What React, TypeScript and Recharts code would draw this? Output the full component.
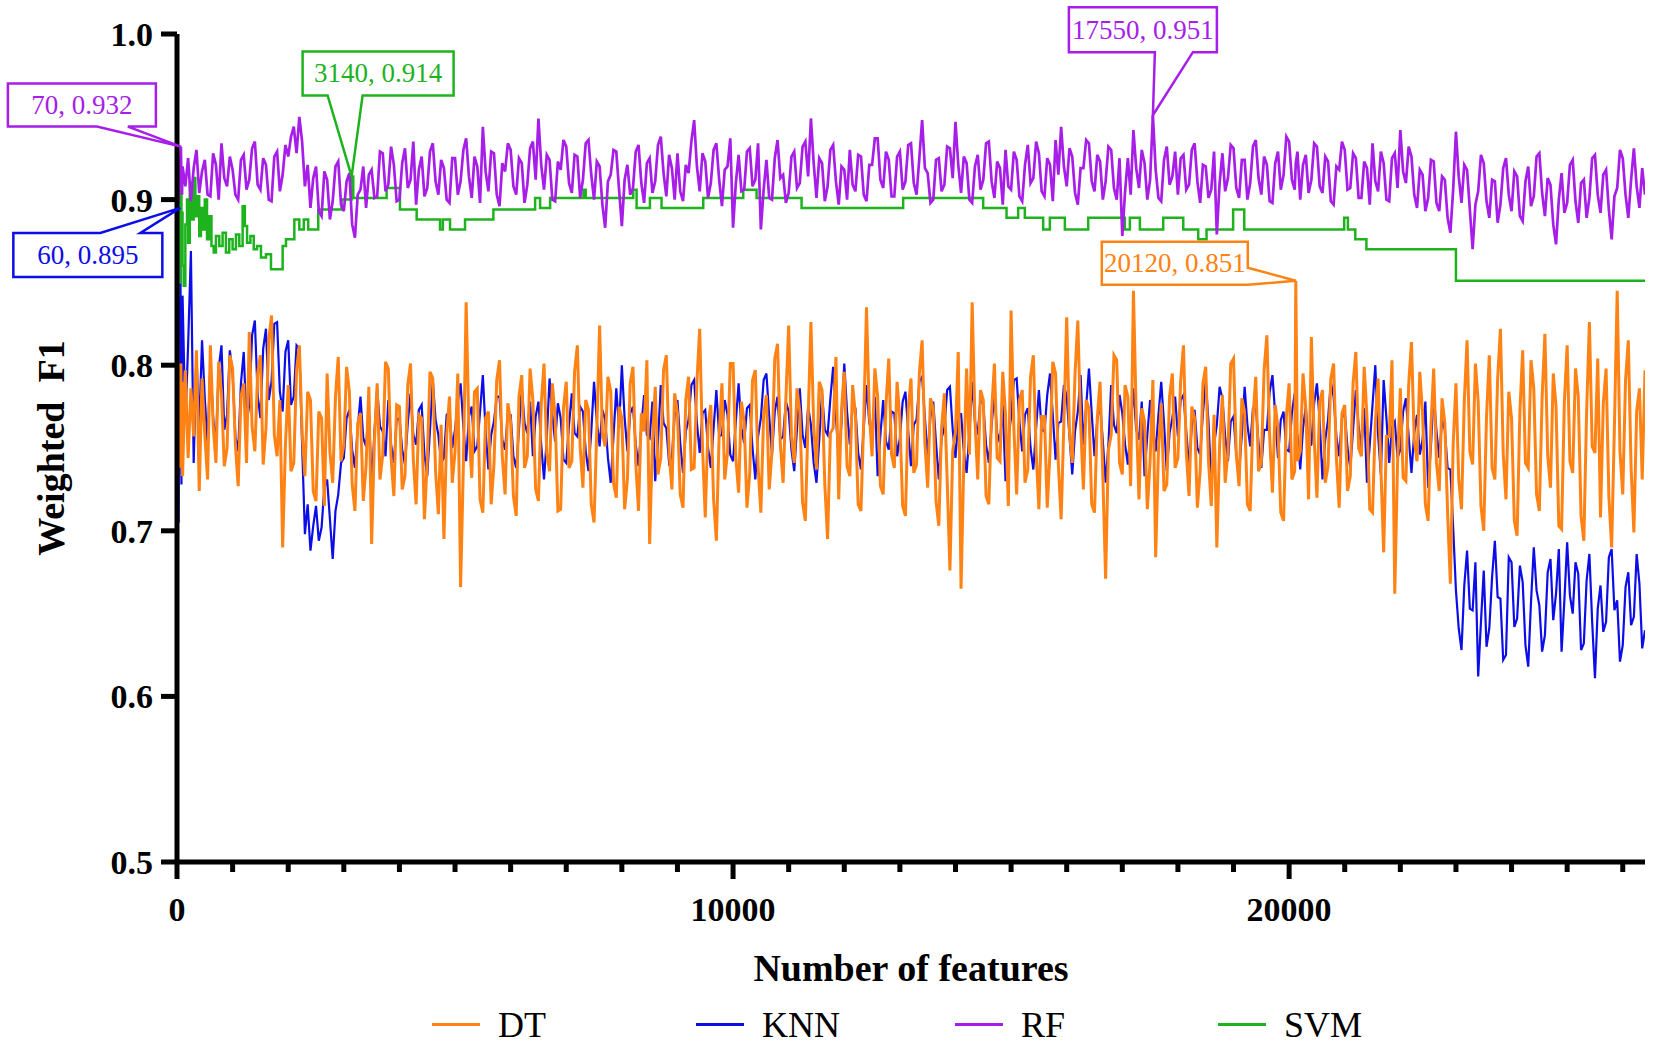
import React from "react";
import { Legend, Line, LineChart, ReferenceDot, XAxis, YAxis } from "recharts";

const FONT = "'Times New Roman', 'Liberation Serif', serif";

// number of features where DT / KNN / RF were scored
const features = [
  10, 20, 30, 40, 50, 60, 70, 80, 90, 100, 150, 200, 250, 300, 350, 400, 450, 500, 550, 600, 650, 700, 750, 800, 850, 900, 950,
  1000, 1050, 1100, 1150, 1200, 1250, 1300, 1350, 1400, 1450, 1500, 1550, 1600, 1650, 1700, 1750, 1800, 1850, 1900, 1950,
  2000, 2050, 2100, 2150, 2200, 2250, 2300, 2350, 2400, 2450, 2500, 2550, 2600, 2650, 2700, 2750, 2800, 2850, 2900, 2950,
  3000, 3050, 3100, 3150, 3200, 3250, 3300, 3350, 3400, 3450, 3500, 3550, 3600, 3650, 3700, 3750, 3800, 3850, 3900, 3950,
  4000, 4050, 4100, 4150, 4200, 4250, 4300, 4350, 4400, 4450, 4500, 4550, 4600, 4650, 4700, 4750, 4800, 4850, 4900, 4950,
  5000, 5050, 5100, 5150, 5200, 5250, 5300, 5350, 5400, 5450, 5500, 5550, 5600, 5650, 5700, 5750, 5800, 5850, 5900, 5950,
  6000, 6050, 6100, 6150, 6200, 6250, 6300, 6350, 6400, 6450, 6500, 6550, 6600, 6650, 6700, 6750, 6800, 6850, 6900, 6950,
  7000, 7050, 7100, 7150, 7200, 7250, 7300, 7350, 7400, 7450, 7500, 7550, 7600, 7650, 7700, 7750, 7800, 7850, 7900, 7950,
  8000, 8050, 8100, 8150, 8200, 8250, 8300, 8350, 8400, 8450, 8500, 8550, 8600, 8650, 8700, 8750, 8800, 8850, 8900, 8950,
  9000, 9050, 9100, 9150, 9200, 9250, 9300, 9350, 9400, 9450, 9500, 9550, 9600, 9650, 9700, 9750, 9800, 9850, 9900, 9950,
  10000, 10050, 10100, 10150, 10200, 10250, 10300, 10350, 10400, 10450, 10500, 10550, 10600, 10650, 10700, 10750, 10800, 10850, 10900, 10950,
  11000, 11050, 11100, 11150, 11200, 11250, 11300, 11350, 11400, 11450, 11500, 11550, 11600, 11650, 11700, 11750, 11800, 11850, 11900, 11950,
  12000, 12050, 12100, 12150, 12200, 12250, 12300, 12350, 12400, 12450, 12500, 12550, 12600, 12650, 12700, 12750, 12800, 12850, 12900, 12950,
  13000, 13050, 13100, 13150, 13200, 13250, 13300, 13350, 13400, 13450, 13500, 13550, 13600, 13650, 13700, 13750, 13800, 13850, 13900, 13950,
  14000, 14050, 14100, 14150, 14200, 14250, 14300, 14350, 14400, 14450, 14500, 14550, 14600, 14650, 14700, 14750, 14800, 14850, 14900, 14950,
  15000, 15050, 15100, 15150, 15200, 15250, 15300, 15350, 15400, 15450, 15500, 15550, 15600, 15650, 15700, 15750, 15800, 15850, 15900, 15950,
  16000, 16050, 16100, 16150, 16200, 16250, 16300, 16350, 16400, 16450, 16500, 16550, 16600, 16650, 16700, 16750, 16800, 16850, 16900, 16950,
  17000, 17050, 17100, 17150, 17200, 17250, 17300, 17350, 17400, 17450, 17500, 17550, 17600, 17650, 17700, 17750, 17800, 17850, 17900, 17950,
  18000, 18050, 18100, 18150, 18200, 18250, 18300, 18350, 18400, 18450, 18500, 18550, 18600, 18650, 18700, 18750, 18800, 18850, 18900, 18950,
  19000, 19050, 19100, 19150, 19200, 19250, 19300, 19350, 19400, 19450, 19500, 19550, 19600, 19650, 19700, 19750, 19800, 19850, 19900, 19950,
  20000, 20050, 20100, 20120, 20150, 20200, 20250, 20300, 20350, 20400, 20450, 20500, 20550, 20600, 20650, 20700, 20750, 20800, 20850, 20900, 20950,
  21000, 21050, 21100, 21150, 21200, 21250, 21300, 21350, 21400, 21450, 21500, 21550, 21600, 21650, 21700, 21750, 21800, 21850, 21900, 21950,
  22000, 22050, 22100, 22150, 22200, 22250, 22300, 22350, 22400, 22450, 22500, 22550, 22600, 22650, 22700, 22750, 22800, 22850, 22900, 22950,
  23000, 23050, 23100, 23150, 23200, 23250, 23300, 23350, 23400, 23450, 23500, 23550, 23600, 23650, 23700, 23750, 23800, 23850, 23900, 23950,
  24000, 24050, 24100, 24150, 24200, 24250, 24300, 24350, 24400, 24450, 24500, 24550, 24600, 24650, 24700, 24750, 24800, 24850, 24900, 24950,
  25000, 25050, 25100, 25150, 25200, 25250, 25300, 25350, 25400, 25450, 25500, 25550, 25600, 25650, 25700, 25750, 25800, 25850, 25900, 25950,
  26000, 26050, 26100, 26150, 26200, 26250, 26300, 26350, 26400,
];

// weighted F1 x 1000
const dtScores = [
  828, 760, 796, 745, 782, 738, 801, 752, 790, 733, 797, 744, 786, 757, 809, 724, 792, 758, 731, 812, 764, 741, 802, 783, 739, 750, 806,
  798, 752, 727, 781, 789, 741, 820, 763, 748, 795, 806, 740, 762, 815, 830, 758, 745, 779, 690, 752,
  788, 736, 741, 797, 812, 760, 733, 784, 779, 724, 718, 772, 768, 715, 795, 748, 729, 781, 805, 742,
  752, 799, 784, 728, 712, 765, 771, 718, 739, 787, 692, 754, 789, 731, 746, 802, 798, 744, 721, 776,
  775, 725, 733, 788, 801, 743, 716, 770, 768, 707, 742, 796, 792, 736, 710, 764, 695, 758, 781, 729,
  748, 795, 666, 740, 838, 761, 732, 784, 786, 719, 711, 768, 772, 716, 740, 791, 803, 745, 722, 777,
  766, 721, 709, 781, 794, 738, 745, 798, 779, 725, 718, 776, 801, 747, 736, 789, 769, 712, 713, 774,
  790, 738, 742, 796, 812, 751, 726, 779, 773, 716, 705, 762, 824, 759, 751, 793, 784, 729, 720, 775,
  768, 713, 731, 789, 799, 741, 712, 771, 760, 803, 692, 753, 787, 734, 744, 797, 806, 748, 725, 783,
  771, 722, 714, 779, 793, 737, 738, 790, 822, 751, 708, 764, 776, 719, 694, 758, 789, 731, 747, 801,
  801, 744, 723, 778, 766, 714, 735, 791, 797, 739, 711, 770, 782, 725, 748, 804, 813, 752, 729, 780,
  824, 757, 741, 786, 772, 717, 706, 768, 826, 764, 737, 790, 785, 728, 695, 759, 762, 805, 719, 773,
  796, 739, 733, 788, 770, 716, 712, 767, 835, 771, 745, 798, 781, 727, 722, 776, 804, 746, 738, 790,
  767, 715, 709, 773, 792, 735, 740, 795, 815, 753, 726, 780, 774, 718, 703, 762, 783, 731, 676, 748,
  760, 808, 665, 742, 798, 746, 838, 767, 731, 785, 779, 721, 716, 772, 801, 744, 742, 796, 770, 715,
  833, 762, 722, 779, 785, 729, 737, 793, 806, 748, 713, 769, 769, 714, 748, 802, 795, 740, 707, 766,
  829, 760, 741, 795, 827, 765, 725, 779, 774, 716, 711, 768, 790, 733, 671, 749, 758, 806, 803, 741,
  734, 788, 781, 727, 845, 771, 719, 774, 766, 713, 742, 791, 684, 749, 777, 724, 728, 781, 795, 738,
  744, 791, 812, 748, 721, 775, 768, 714, 736, 789, 799, 742, 715, 770, 690, 752, 782, 729, 748, 801,
  804, 746, 727, 780, 771, 716, 712, 768, 793, 736, 741, 797, 818, 757, 723, 776, 762, 711, 706, 769,
  789, 731, 736, 851, 742, 748, 795, 774, 719, 817, 756, 720, 778, 785, 729, 739, 792, 801, 744, 714, 771,
  776, 724, 733, 789, 808, 750, 745, 799, 769, 713, 711, 765, 792, 738, 687, 757, 757, 803, 662, 741,
  786, 732, 730, 788, 814, 755, 742, 796, 771, 716, 706, 763, 798, 741, 724, 780, 765, 711, 668, 752,
  789, 731, 713, 778, 815, 748, 740, 801, 778, 715, 700, 769, 806, 738, 731, 792, 822, 747, 719, 784,
  768, 706, 697, 772, 809, 741, 738, 803, 786, 722, 712, 781, 819, 746, 726, 795, 775, 703, 701, 778,
  812, 742, 735, 798, 781, 709, 694, 772, 826, 751, 747, 804, 708, 777, 798, 721, 690, 763, 845, 748,
  722, 791, 815, 738, 699, 772, 786, 731, 797,
];

const knnScores = [
  655, 762, 705, 832, 858, 895, 781, 728, 803, 842, 765, 812, 869, 741, 806, 762, 815, 780, 752, 801, 768, 752, 798, 812, 761, 770, 809,
  795, 757, 748, 789, 808, 765, 776, 818, 827, 782, 768, 810, 822, 779, 790, 825, 826, 784, 772, 808,
  815, 776, 781, 812, 810, 752, 698, 716, 688, 703, 715, 694, 702, 726, 731, 707, 683, 712, 722, 741,
  744, 768, 773, 749, 738, 762, 781, 756, 751, 774, 727, 759, 786, 763, 760, 745, 779, 752, 741, 767,
  768, 749, 740, 765, 783, 758, 752, 773, 776, 746, 733, 761, 791, 767, 758, 741, 744, 770, 772, 750,
  761, 778, 789, 763, 742, 769, 775, 748, 751, 772, 794, 760, 737, 758, 766, 781, 781, 755, 749, 771,
  770, 745, 738, 761, 787, 765, 759, 778, 745, 769, 778, 752, 731, 756, 792, 770, 754, 777, 768, 743,
  741, 764, 783, 759, 757, 775, 772, 748, 736, 760, 790, 766, 751, 773, 767, 744, 729, 757, 786, 762,
  800, 768, 748, 771, 775, 752, 739, 763, 782, 758, 756, 778, 730, 754, 788, 765, 762, 741, 744, 770,
  779, 753, 735, 760, 767, 788, 791, 765, 747, 771, 773, 750, 738, 762, 785, 757, 758, 779, 770, 746,
  742, 766, 789, 762, 753, 774, 776, 750, 731, 757, 768, 791, 795, 769, 746, 772, 781, 755, 757, 778,
  772, 749, 736, 762, 786, 758, 750, 775, 764, 741, 729, 755, 783, 761, 758, 780, 799, 769, 743, 765,
  801, 772, 752, 776, 774, 747, 737, 762, 788, 765, 760, 781, 733, 758, 779, 754, 749, 772, 771, 745,
  756, 778, 784, 760, 739, 764, 767, 790, 793, 768, 745, 769, 778, 753, 731, 756, 762, 785, 787, 761,
  744, 767, 771, 748, 735, 759, 790, 766, 758, 780, 776, 752, 741, 764, 783, 759, 753, 776, 730, 755,
  769, 791, 792, 766, 748, 770, 774, 750, 737, 762, 785, 761, 760, 782, 795, 770, 743, 765, 766, 788,
  781, 757, 734, 760, 772, 794, 752, 775, 798, 771, 745, 767, 777, 754, 729, 752, 788, 764, 759, 782,
  771, 752, 740, 763, 786, 761, 755, 778, 733, 758, 779, 762, 748, 770, 790, 765, 736, 759, 768, 781,
  757, 779, 782, 760, 739, 763, 773, 750, 746, 771, 791, 766, 728, 752, 764, 787, 780, 757, 742, 766,
  769, 746, 735, 758, 787, 764, 751, 774, 776, 753, 738, 761, 761, 784, 794, 770, 744, 767, 772, 749,
  748, 771, 783, 760, 758, 737, 762, 775, 751, 752, 777, 789, 766, 731, 755, 767, 790, 781, 757, 745, 768,
  772, 750, 738, 761, 785, 763, 750, 774, 729, 752, 776, 800, 758, 734, 791, 768, 741, 763, 766, 744,
  749, 772, 780, 757, 735, 759, 770, 746, 755, 778, 726, 751, 783, 760, 744, 767, 761, 738, 737, 702,
  664, 641, 628, 667, 688, 653, 652, 681, 612, 645, 676, 630, 641, 672, 694, 660, 659, 622, 625, 684,
  681, 642, 647, 679, 669, 631, 618, 657, 690, 664, 655, 627, 637, 675, 683, 646, 662, 689, 627, 658,
  693, 661, 650, 681, 674, 628, 632, 670, 686, 645, 611, 653, 667, 639, 645, 684, 689, 652, 658, 621,
  631, 666, 675, 643, 648, 686, 668, 629, 640,
];

const rfScores = [
  905, 918, 898, 922, 910, 926, 932, 910, 903, 920, 908, 925, 899, 919, 930, 904, 917, 924, 903, 902, 928, 921, 900, 934, 913, 908, 926,
  918, 903, 900, 924, 927, 906, 912, 931, 935, 909, 906, 925, 921, 900, 899, 926, 929, 905, 915, 933,
  926, 938, 944, 928, 950, 935, 908, 921, 895, 913, 920, 893, 890, 917, 912, 888, 899, 920, 923, 897,
  893, 911, 916, 885, 877, 903, 906, 920, 895, 915, 918, 901, 902, 929, 928, 905, 909, 932, 921, 899,
  900, 922, 931, 907, 912, 935, 897, 918, 926, 902, 907, 929, 934, 911, 903, 924, 919, 900, 898, 925,
  925, 903, 911, 930, 937, 914, 901, 926, 920, 898, 944, 917, 905, 929, 928, 903, 896, 922, 917, 934,
  930, 908, 903, 925, 922, 898, 909, 931, 935, 912, 949, 921, 906, 927, 924, 900, 899, 923, 918, 936,
  932, 910, 904, 927, 926, 901, 912, 934, 936, 915, 900, 923, 920, 897, 883, 911, 915, 930, 929, 906,
  884, 912, 921, 903, 907, 929, 933, 910, 898, 922, 925, 904, 911, 933, 938, 916, 902, 927, 919, 900,
  928, 905, 899, 921, 916, 935, 948, 920, 905, 928, 923, 901, 910, 930, 934, 912, 896, 918, 920, 937,
  883, 910, 927, 905, 906, 929, 931, 908, 912, 934, 882, 906, 924, 901, 900, 925, 936, 913, 915, 898,
  904, 926, 929, 907, 910, 932, 935, 914, 949, 922, 901, 925, 922, 899, 908, 930, 933, 911, 897, 920,
  918, 900, 930, 909, 905, 927, 926, 903, 899, 921, 921, 937, 937, 912, 907, 929, 924, 902, 902, 926,
  929, 906, 911, 933, 934, 910, 903, 925, 948, 919, 916, 898, 900, 924, 925, 905, 909, 932, 931, 913,
  947, 921, 904, 926, 922, 900, 898, 920, 927, 906, 912, 934, 935, 911, 901, 923, 919, 897, 930, 908,
  906, 929, 924, 902, 899, 921, 933, 910, 913, 935, 928, 905, 902, 925, 921, 899, 936, 915, 944, 920,
  908, 931, 926, 904, 897, 919, 919, 936, 934, 911, 905, 927, 923, 900, 911, 932, 930, 907, 900, 925,
  878, 905, 925, 903, 942, 919, 907, 930, 922, 900, 912, 951, 918, 901, 899, 924, 932, 909, 914, 929,
  903, 925, 927, 906, 909, 930, 934, 911, 898, 921, 920, 901, 906, 929, 879, 910, 928, 905, 913, 933,
  931, 907, 901, 924, 924, 900, 910, 932, 936, 913, 903, 926, 921, 899, 898, 922, 929, 906, 915, 938,
  935, 912, 906, 922, 929, 900, 921, 927, 904, 912, 934, 932, 908, 904, 926, 923, 899, 897, 920, 918, 935,
  930, 906, 907, 928, 925, 901, 901, 923, 919, 897, 934, 911, 905, 929, 922, 900, 899, 925, 928, 907,
  942, 917, 910, 932, 926, 903, 895, 918, 915, 893, 901, 924, 923, 898, 893, 914, 912, 889, 880, 906,
  941, 914, 898, 921, 918, 894, 870, 897, 905, 927, 922, 899, 889, 912, 911, 886, 897, 919, 925, 903,
  893, 917, 914, 890, 887, 911, 920, 896, 902, 926, 928, 904, 890, 913, 909, 885, 873, 900, 916, 892,
  898, 921, 924, 899, 886, 910, 912, 889, 901, 925, 927, 903, 892, 915, 918, 894, 876, 902, 907, 930,
  925, 903, 889, 912, 931, 908, 895, 919, 903,
];

// SVM only changes at a few feature counts (step line)
const svmFeatures = [
  10, 20, 30, 40, 50, 60, 70, 80, 90, 100,
  120, 150, 180, 200, 230, 260, 300, 330, 360, 400,
  430, 470, 500, 540, 580, 620, 660, 700, 760, 820,
  880, 940, 1000, 1060, 1120, 1180, 1220, 1260, 1320, 1380,
  1440, 1510, 1600, 1690, 1900, 1960, 2110, 2200, 2280, 2360,
  2540, 2960, 3140, 3170, 3770, 4010, 4310, 4730, 4780, 4910,
  5180, 5690, 6440, 6530, 6710, 7310, 7350, 8205, 8265, 8505,
  8714, 9464, 10183, 10423, 11232, 13059, 14498, 14918, 15127, 15247,
  15577, 15697, 15967, 16387, 17046, 17136, 17316, 17736, 18096, 18365,
  18515, 18993, 19193, 20990, 21057, 21190, 21390, 23000, 26400,
];
const svmScores = [
  0.842, 0.905, 0.862, 0.899, 0.85, 0.878, 0.906, 0.87, 0.892, 0.86,
  0.848, 0.885, 0.9, 0.874, 0.91, 0.888, 0.913, 0.89, 0.902, 0.878,
  0.895, 0.882, 0.9, 0.876, 0.89, 0.872, 0.868, 0.878, 0.872, 0.88,
  0.868, 0.876, 0.87, 0.879, 0.872, 0.896, 0.884, 0.874, 0.878, 0.87,
  0.872, 0.865, 0.867, 0.858, 0.872, 0.876, 0.888, 0.882, 0.888, 0.882,
  0.894, 0.9, 0.914, 0.901, 0.907, 0.894, 0.888, 0.882, 0.888, 0.882,
  0.888, 0.894, 0.901, 0.895, 0.901, 0.906, 0.901, 0.906, 0.895, 0.901,
  0.895, 0.901, 0.906, 0.901, 0.895, 0.901, 0.895, 0.889, 0.895, 0.889,
  0.882, 0.889, 0.882, 0.889, 0.882, 0.889, 0.882, 0.889, 0.882, 0.876,
  0.882, 0.894, 0.882, 0.889, 0.882, 0.876, 0.87, 0.851, 0.851,
];

const seriesNames = ["DT", "KNN", "RF", "SVM"];
const seriesColors: Record<string, string> = {
  DT: "#ff8214",
  KNN: "#0d0de8",
  RF: "#a61ee8",
  SVM: "#1fb21f",
};

const yTicks = [0.5, 0.6, 0.7, 0.8, 0.9, 1.0];
const xTicks = [
  0, 1000, 2000, 3000, 4000, 5000, 6000, 7000, 8000, 9000, 10000, 11000, 12000, 13000,
  14000, 15000, 16000, 17000, 18000, 19000, 20000, 21000, 22000, 23000, 24000, 25000, 26000,
];
const xLabels = [0, 10000, 20000];

// highlighted points
const callouts = [
  { series: "RF", features: 70, score: 0.932 },
  { series: "KNN", features: 60, score: 0.895 },
  { series: "SVM", features: 3140, score: 0.914 },
  { series: "RF", features: 17550, score: 0.951 },
  { series: "DT", features: 20120, score: 0.851 },
];

// bubble shapes, px relative to the pointed value: box = [left, top, right, bottom]
const bubbles = [
  { box: [-173, -63, -25, -20], outline: [[-173, -63], [-25, -63], [-25, -20], [-53, -20], [0, 0], [-84, -20], [-173, -20]] },
  { box: [-167, 25, -18, 69], outline: [[-167, 25], [-80, 25], [0, 0], [-40, 25], [-18, 25], [-18, 69], [-167, 69]] },
  { box: [-49, -125, 102, -81], outline: [[-49, -125], [102, -125], [102, -81], [11, -81], [0, 0], [-24, -81], [-49, -81]] },
  { box: [-84, -108, 64, -63], outline: [[-84, -108], [64, -108], [64, -63], [40, -63], [0, 0], [2, -63], [-84, -63]] },
  { box: [-194, -39, -48, 4], outline: [[-194, -39], [-48, -39], [-48, -13], [0, 0], [-48, 4], [-194, 4]] },
];

const legendLeft = [432, 696, 955, 1218];

const data = features.map((f, i) => ({
  features: f,
  DT: dtScores[i] / 1000,
  KNN: knnScores[i] / 1000,
  RF: rfScores[i] / 1000,
}));
const svmData = svmFeatures.map((f, i) => ({ features: f, SVM: svmScores[i] }));

function XTick(props: any) {
  const { x, y, payload } = props;
  const major = xLabels.includes(payload.value);
  return (
    <g>
      <line x1={x} x2={x} y1={y} y2={y + (major ? 17 : 10)} stroke="#000" strokeWidth={5} />
      {major && (
        <text
          x={x}
          y={y + 47}
          textAnchor="middle"
          dominantBaseline="central"
          fontFamily={FONT}
          fontWeight="bold"
          fontSize={34}
          fill="#000"
        >
          {payload.value}
        </text>
      )}
    </g>
  );
}

function Bubble({ cx, cy, idx }: { cx: number; cy: number; idx: number }) {
  const c = callouts[idx];
  const b = bubbles[idx];
  const color = seriesColors[c.series];
  const [l, t, r, bt] = b.box;
  const pts = b.outline.map(([dx, dy]) => `${cx + dx},${cy + dy}`).join(" ");
  return (
    <g>
      <rect x={cx + l} y={cy + t} width={r - l} height={bt - t} fill="#fff" />
      <polygon points={pts} fill="none" stroke={color} strokeWidth={2.5} />
      <text
        x={cx + (l + r) / 2}
        y={cy + (t + bt) / 2}
        textAnchor="middle"
        dominantBaseline="central"
        fill={color}
        fontSize={27}
        fontFamily={FONT}
      >
        {`${c.features}, ${c.score.toFixed(3)}`}
      </text>
    </g>
  );
}

function LegendRow() {
  return (
    <div style={{ position: "relative", width: 1654, height: 44 }}>
      {seriesNames.map((name, i) => (
        <div key={name} style={{ position: "absolute", left: legendLeft[i], top: 0, height: 44 }}>
          <div
            style={{
              position: "absolute",
              left: 0,
              top: 20,
              width: 48,
              height: 3,
              background: seriesColors[name],
            }}
          />
          <span
            style={{
              position: "absolute",
              left: 66,
              top: 0,
              lineHeight: "44px",
              fontSize: 36,
              fontFamily: FONT,
              color: "#000",
              whiteSpace: "nowrap",
            }}
          >
            {name}
          </span>
        </div>
      ))}
    </div>
  );
}

export default function App() {
  return (
    <div
      style={{
        position: "fixed",
        left: 0,
        top: 0,
        width: 1654,
        height: 1048,
        background: "#fff",
        overflow: "hidden",
      }}
    >
      <LineChart
        width={1654}
        height={1048}
        data={data}
        margin={{ top: 34, right: 9, left: 0, bottom: 1 }}
      >
        <XAxis
          dataKey="features"
          type="number"
          domain={[0, 26400]}
          ticks={xTicks}
          interval={0}
          allowDataOverflow
          height={141}
          axisLine={{ stroke: "#000", strokeWidth: 5 }}
          tickLine={false}
          tickSize={0}
          tickMargin={0}
          tick={<XTick />}
        />
        <YAxis
          type="number"
          domain={[0.5, 1.0]}
          ticks={yTicks}
          allowDataOverflow
          width={177}
          axisLine={{ stroke: "#000", strokeWidth: 5 }}
          tickLine={{ stroke: "#000", strokeWidth: 5 }}
          tickSize={16}
          tickMargin={8}
          tickFormatter={(v: number) => v.toFixed(1)}
          tick={{ fill: "#000", fontSize: 34, fontWeight: 700, fontFamily: FONT }}
        />
        <Line
          dataKey="KNN"
          stroke={seriesColors.KNN}
          strokeWidth={2.2}
          dot={false}
          activeDot={false}
          type="linear"
          isAnimationActive={false}
        />
        <Line
          dataKey="DT"
          stroke={seriesColors.DT}
          strokeWidth={3}
          dot={false}
          activeDot={false}
          type="linear"
          isAnimationActive={false}
        />
        <Line
          data={svmData}
          dataKey="SVM"
          stroke={seriesColors.SVM}
          strokeWidth={2.5}
          dot={false}
          activeDot={false}
          type="stepAfter"
          isAnimationActive={false}
        />
        <Line
          dataKey="RF"
          stroke={seriesColors.RF}
          strokeWidth={2.7}
          dot={false}
          activeDot={false}
          type="linear"
          isAnimationActive={false}
        />
        {callouts.map((c, i) => (
          <ReferenceDot
            key={i}
            x={c.features}
            y={c.score}
            r={0}
            ifOverflow="visible"
            shape={(p: any) => <Bubble cx={p.cx} cy={p.cy} idx={i} />}
          />
        ))}
        <Legend
          verticalAlign="bottom"
          height={44}
          wrapperStyle={{ left: 0, width: 1654 }}
          content={() => <LegendRow />}
        />
      </LineChart>
      <svg
        width={1654}
        height={1048}
        style={{ position: "absolute", left: 0, top: 0, pointerEvents: "none" }}
      >
        <text
          x={51}
          y={448}
          transform="rotate(-90 51 448)"
          textAnchor="middle"
          dominantBaseline="central"
          fontFamily={FONT}
          fontWeight="bold"
          fontSize={38}
          fill="#000"
          style={{ whiteSpace: "pre" }}
        >
          {"Weighted  F1"}
        </text>
        <text
          x={911}
          y={968}
          textAnchor="middle"
          dominantBaseline="central"
          fontFamily={FONT}
          fontWeight="bold"
          fontSize={38}
          fill="#000"
        >
          Number of features
        </text>
      </svg>
    </div>
  );
}
